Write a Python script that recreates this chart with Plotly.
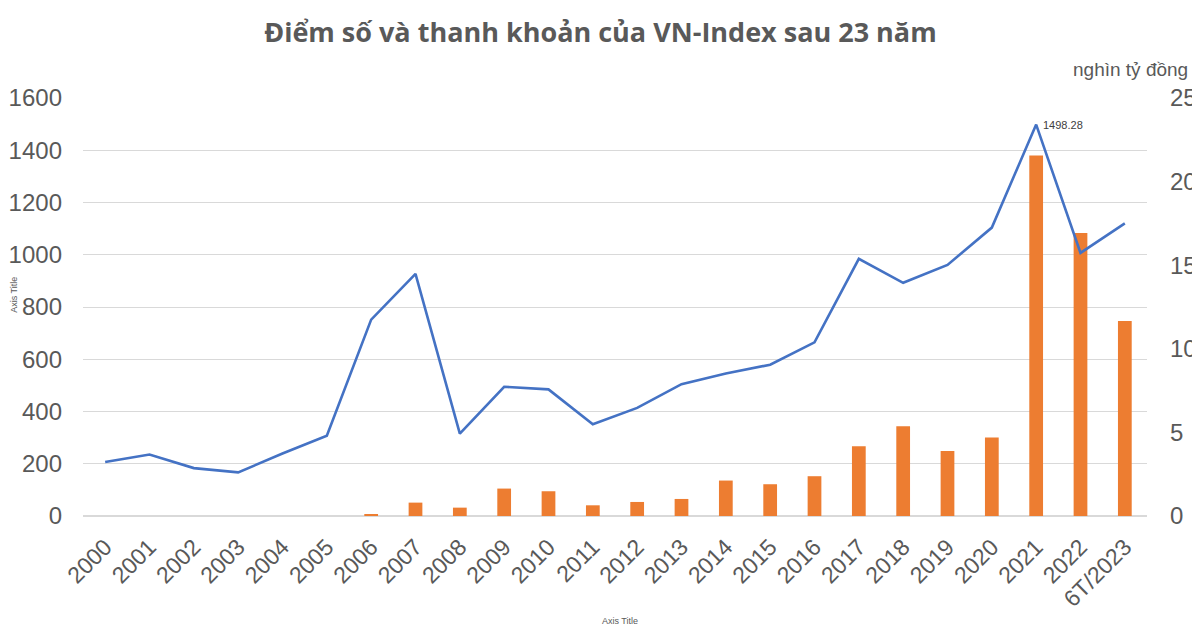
import plotly.graph_objects as go

categories = ["2000", "2001", "2002", "2003", "2004", "2005", "2006", "2007", "2008",
              "2009", "2010", "2011", "2012", "2013", "2014", "2015", "2016", "2017",
              "2018", "2019", "2020", "2021", "2022", "6T/2023"]
vnindex = [206.83, 235.40, 183.33, 166.94, 239.29, 307.50, 751.77, 927.02, 315.62,
           494.77, 484.66, 351.55, 413.73, 504.63, 545.63, 579.03, 664.87, 984.24,
           892.54, 960.99, 1103.87, 1498.28, 1007.09, 1120.18]
liquidity = [None, None, None, None, None, None, 0.12, 0.80, 0.50,
             1.64, 1.48, 0.64, 0.84, 1.02, 2.12, 1.90, 2.38, 4.17,
             5.37, 3.89, 4.69, 21.56, 16.93, 11.66]
left_ticks = [0, 200, 400, 600, 800, 1000, 1200, 1400, 1600]
right_ticks = [0, 5, 10, 15, 20, 25]

TXT = "#595959"
FONT = "Liberation Sans, Arial, sans-serif"

fig = go.Figure()
fig.add_trace(go.Bar(
    x=categories, y=liquidity, yaxis="y", marker=dict(color="#ED7D31", line=dict(width=0)),
    width=0.31, name="Thanh khoản"))
fig.add_trace(go.Scatter(
    x=categories, y=vnindex, yaxis="y2", mode="lines",
    line=dict(color="#4472C4", width=2.6), name="VN-Index"))

peak = vnindex.index(max(vnindex))
fig.add_annotation(x=peak, y=vnindex[peak], xref="x", yref="y2",
                   text=f"{vnindex[peak]:.2f}", showarrow=False, xanchor="left",
                   yanchor="middle", xshift=5, font=dict(size=11, color="#404040", family=FONT))

fig.add_annotation(x=1.04, y=1.0, xref="paper", yref="paper", text="nghìn tỷ đồng",
                   showarrow=False, xanchor="right", yanchor="middle", yshift=29,
                   font=dict(size=19, color=TXT, family=FONT))
fig.add_annotation(x=-0.0645, y=0.53, xref="paper", yref="paper", text="Axis Title",
                   showarrow=False, textangle=-90, xanchor="center", yanchor="middle",
                   font=dict(size=9, color=TXT, family=FONT))
fig.add_annotation(x=0.505, y=-0.25, xref="paper", yref="paper", text="Axis Title",
                   showarrow=False, xanchor="center", yanchor="middle",
                   font=dict(size=9, color=TXT, family=FONT))

fig.update_layout(
    width=1192, height=622,
    margin=dict(l=75, r=53, t=90, b=114, autoexpand=False),
    paper_bgcolor="white", plot_bgcolor="white",
    showlegend=False,
    title=dict(text="<b>Điểm số và thanh khoản của VN-Index sau 23 năm</b>",
               x=0.497, xanchor="center", y=0.961, yanchor="middle",
               font=dict(size=27, color=TXT, family="Open Sans, sans-serif")),
    xaxis=dict(type="category", range=[-0.5, len(categories) - 0.5], tickangle=-45,
               showgrid=False, showline=False, ticks="", automargin=False,
               ticklabelstandoff=12,
               tickfont=dict(size=23, color=TXT, family=FONT)),
    yaxis=dict(side="right", range=[0, 25], tickvals=right_ticks, showgrid=False,
               zeroline=False, ticks="", ticklabelstandoff=22, automargin=False,
               tickfont=dict(size=24, color=TXT, family=FONT)),
    yaxis2=dict(side="left", overlaying="y", range=[0, 1600], tickvals=left_ticks,
                showgrid=True, gridcolor="#D9D9D9", gridwidth=1,
                zeroline=True, zerolinecolor="#D9D9D9", zerolinewidth=1.5,
                ticks="", ticklabelstandoff=20, automargin=False,
                tickfont=dict(size=24, color=TXT, family=FONT)),
    bargap=0.69,
)

fig.write_html("out.html")
